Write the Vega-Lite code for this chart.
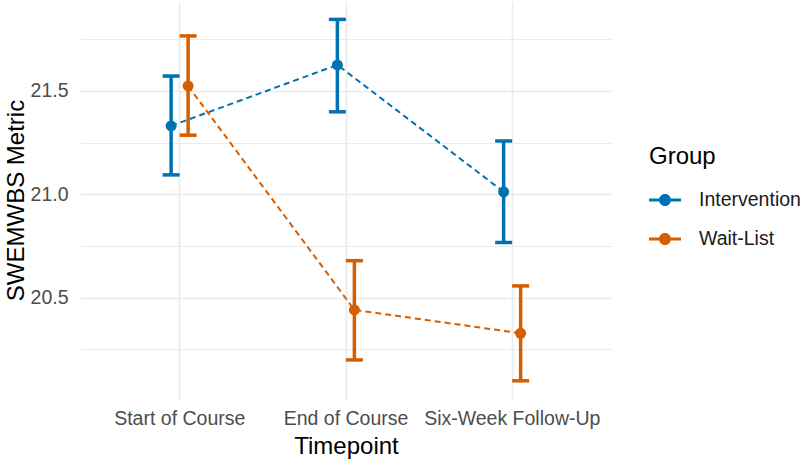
{
  "$schema": "https://vega.github.io/schema/vega-lite/v6.json",
  "width": 532,
  "height": 398,
  "autosize": {"type": "none"},
  "padding": {"left": 80, "top": 1, "right": 188, "bottom": 60},
  "background": "white",
  "config": {"font": "Liberation Sans", "view": {"stroke": null}},
  "data": {
    "values": [
      {"timepoint": "Start of Course", "ord": 1, "group": "Intervention", "mean": 21.331, "lower": 21.094, "upper": 21.572},
      {"timepoint": "End of Course", "ord": 2, "group": "Intervention", "mean": 21.626, "lower": 21.399, "upper": 21.846},
      {"timepoint": "Six-Week Follow-Up", "ord": 3, "group": "Intervention", "mean": 21.012, "lower": 20.767, "upper": 21.258},
      {"timepoint": "Start of Course", "ord": 1, "group": "Wait-List", "mean": 21.524, "lower": 21.286, "upper": 21.766},
      {"timepoint": "End of Course", "ord": 2, "group": "Wait-List", "mean": 20.441, "lower": 20.199, "upper": 20.679},
      {"timepoint": "Six-Week Follow-Up", "ord": 3, "group": "Wait-List", "mean": 20.328, "lower": 20.098, "upper": 20.557}
    ]
  },
  "encoding": {
    "x": {
      "field": "timepoint",
      "type": "nominal",
      "sort": ["Start of Course", "End of Course", "Six-Week Follow-Up"],
      "scale": {"paddingInner": 0, "paddingOuter": 0.1},
      "axis": {
        "title": "Timepoint",
        "titleFontSize": 24,
        "titleFontWeight": "normal",
        "titleColor": "#000000",
        "titleBaseline": "alphabetic",
        "titleY": 54,
        "labelFontSize": 19.5,
        "labelColor": "#4D4D4D",
        "labelPadding": 10,
        "labelAngle": 0,
        "labelOverlap": false,
        "labelLimit": 0,
        "domain": false,
        "ticks": false,
        "tickSize": 0,
        "grid": true,
        "bandPosition": 0.5,
        "gridColor": "#EBEBEB",
        "gridWidth": 1.6
      }
    },
    "xOffset": {"field": "group", "type": "nominal", "scale": {"range": [66, 100]}},
    "color": {
      "field": "group",
      "type": "nominal",
      "scale": {"domain": ["Intervention", "Wait-List"], "range": ["#0072B2", "#D55E00"]},
      "legend": {
        "title": "Group",
        "orient": "none",
        "legendX": 569,
        "legendY": 144,
        "titleFontSize": 24,
        "titleFontWeight": "normal",
        "titleColor": "#000000",
        "titlePadding": 15,
        "labelFontSize": 19.5,
        "labelColor": "#1A1A1A",
        "labelOffset": 18,
        "rowPadding": 13,
        "symbolType": "M-1,-0.09L1,-0.09L1,0.09L-1,0.09Z M0.375,0A0.375,0.375,0,1,1,-0.375,0A0.375,0.375,0,1,1,0.375,0Z",
        "symbolSize": 1024,
        "symbolStrokeWidth": 0,
        "encode": {"symbols": {"update": {"fill": {"scale": "color", "field": "value"}, "opacity": {"value": 1}}}}
      }
    }
  },
  "layer": [
    {
      "mark": {"type": "line", "strokeDash": [6, 4], "strokeWidth": 2},
      "encoding": {
        "y": {
          "field": "mean",
          "type": "quantitative",
          "scale": {"domain": [20.01, 21.935], "zero": false, "nice": false},
          "axis": {
            "title": "SWEMWBS Metric",
            "titleFontSize": 24,
            "titleFontWeight": "normal",
            "titleColor": "#000000",
            "titleBaseline": "alphabetic",
            "titleX": -57,
            "titleY": 199,
            "values": [20.25, 20.5, 20.75, 21, 21.25, 21.5, 21.75],
            "labelExpr": "datum.value % 0.5 == 0 ? format(datum.value, '.1f') : ''",
            "labelFontSize": 19.5,
            "labelColor": "#4D4D4D",
            "labelPadding": 12,
            "domain": false,
            "ticks": false,
            "tickSize": 0,
            "grid": true,
            "gridColor": "#EBEBEB",
            "gridWidth": {"condition": {"test": "datum.value % 0.5 == 0", "value": 1.6}, "value": 1.1}
          }
        },
        "order": {"field": "ord", "type": "quantitative"}
      }
    },
    {
      "mark": {"type": "rule", "strokeWidth": 3.5},
      "encoding": {
        "y": {"field": "lower", "type": "quantitative", "axis": {"title": "SWEMWBS Metric"}},
        "y2": {"field": "upper"}
      }
    },
    {
      "mark": {"type": "tick", "size": 17, "thickness": 3.5, "opacity": 1},
      "encoding": {"y": {"field": "lower", "type": "quantitative", "axis": {"title": "SWEMWBS Metric"}}}
    },
    {
      "mark": {"type": "tick", "size": 17, "thickness": 3.5, "opacity": 1},
      "encoding": {"y": {"field": "upper", "type": "quantitative", "axis": {"title": "SWEMWBS Metric"}}}
    },
    {
      "mark": {"type": "point", "filled": true, "size": 120, "opacity": 1},
      "encoding": {"y": {"field": "mean", "type": "quantitative", "axis": {"title": "SWEMWBS Metric"}}}
    }
  ]
}
